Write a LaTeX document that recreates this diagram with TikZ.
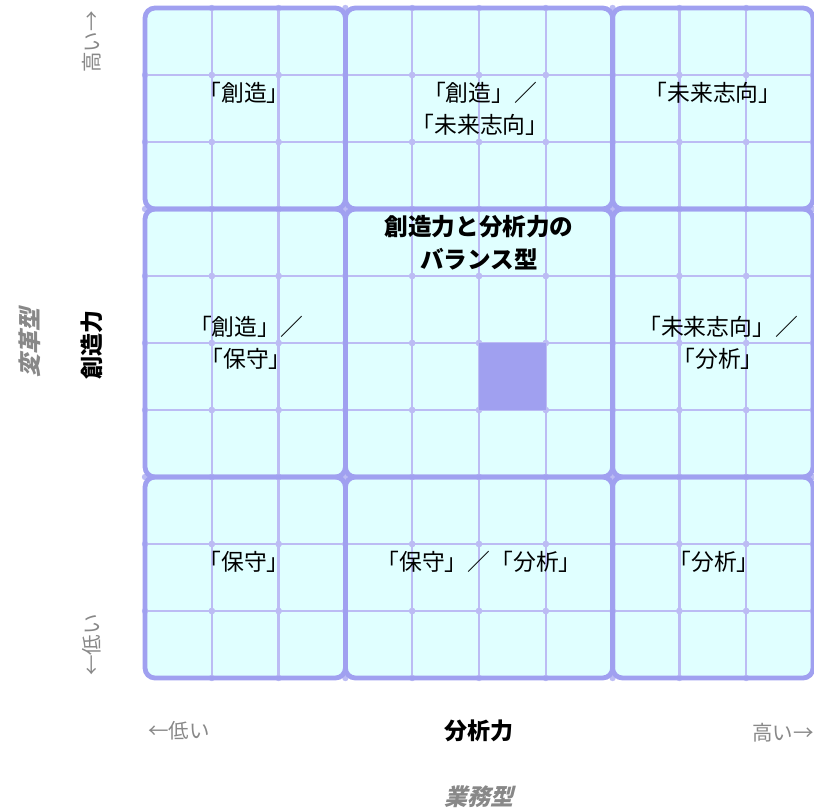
\documentclass[tikz,border=0pt]{standalone}
\usepackage{fontspec}
\setmainfont{Noto Sans CJK JP}
\newfontfamily\jpslant[FakeSlant=0.25]{Noto Sans CJK JP}
\definecolor{cellfill}{HTML}{E0FFFF}
\definecolor{blockline}{HTML}{A0A0F0}
\definecolor{gridline}{HTML}{BCBCF4}
\definecolor{axisgray}{HTML}{888888}
\tikzset{
  celltext/.style={font=\fontsize{22.8}{32}\selectfont, text=black, align=center, inner sep=0pt},
  titletext/.style={font=\fontsize{23.6}{33}\selectfont\bfseries, text=black, align=center, inner sep=0pt},
  axisend/.style={font=\fontsize{20.5}{24}\selectfont, text=axisgray, inner sep=0pt},
  axisname/.style={font=\fontsize{23}{26}\selectfont\bfseries, text=black, inner sep=0pt},
  axistype/.style={font=\fontsize{23}{26}\selectfont\jpslant\bfseries, text=axisgray, inner sep=0pt},
  blockbox/.style={draw=blockline, line width=4.8pt, rounded corners=10pt},
}
\begin{document}
\begin{tikzpicture}[x=1pt,y=-1pt]
\useasboundingbox (0,0) rectangle (814,811);
% block fills
\foreach \a/\b in {0/3,3/7,7/10}{
  \foreach \c/\d in {0/3,3/7,7/10}{
    \fill[cellfill, rounded corners=10pt] ({145+66.8*\a},{8+67*\c}) rectangle ({145+66.8*\b},{8+67*\d});
  }
}
% inner grid lines
\foreach \i in {1,2,4,5,6,8,9}{
  \draw[gridline, line width=2.3pt] ({145+66.8*\i},8) -- ({145+66.8*\i},678);
  \draw[gridline, line width=2.3pt] (145,{8+67*\i}) -- (813,{8+67*\i});
}
% dots at intersections
\foreach \i in {1,...,9}{
  \foreach \j in {0,...,10}{
    \fill[gridline] ({145+66.8*\i},{8+67*\j}) circle (3.2pt);
    \fill[gridline] ({145+66.8*\j},{8+67*\i}) circle (3.2pt);
  }
}
% highlighted cell
\fill[blockline] ({145+66.8*5},{8+67*5}) rectangle ({145+66.8*6},{8+67*6});
% block borders
\foreach \a/\b in {0/3,3/7,7/10}{
  \foreach \c/\d in {0/3,3/7,7/10}{
    \draw[blockbox] ({145+66.8*\a},{8+67*\c}) rectangle ({145+66.8*\b},{8+67*\d});
  }
}
% cell texts
\node[celltext] (tl) at (244,93) {「創造」};
\node[celltext] (tc) at (480,109) {「創造」／\\「未来志向」};
\node[celltext] (tr) at (713,93) {「未来志向」};
\node[celltext] (ml) at (246,343) {「創造」／\\「保守」};
\node[titletext] (mc) at (479,243) {創造力と分析力の\\バランス型};
\node[celltext] (mr) at (718,343) {「未来志向」／\\「分析」};
\node[celltext] (bl) at (244,562) {「保守」};
\node[celltext] (bc) at (479,562) {「保守」／「分析」};
\node[celltext] (br) at (714,562) {「分析」};
% x axis
\node[axisend] (xlow) at (179,731) {←低い};
\node[axisname] (xname) at (479,731) {分析力};
\node[axisend] (xhigh) at (783,733) {高い→};
\node[axistype] (xtype) at (479,797) {業務型};
% y axis
\node[axisend, rotate=90] (yhigh) at (92,42) {高い→};
\node[axisname, rotate=90] (yname) at (92,345) {創造力};
\node[axisend, rotate=90] (ylow) at (92,645) {←低い};
\node[axistype, rotate=90] (ytype) at (30,343) {変革型};
\end{tikzpicture}
\end{document}
